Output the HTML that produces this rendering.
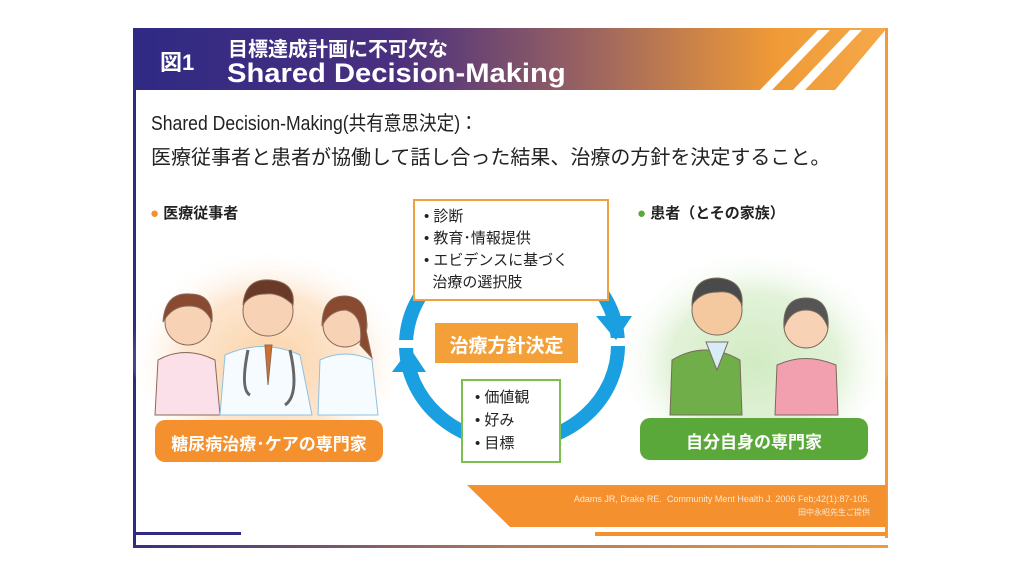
<!DOCTYPE html>
<html><head><meta charset="utf-8"><style>
body{margin:0;width:1024px;height:576px;background:#fff;position:relative;overflow:hidden;font-family:"Liberation Sans","Noto Sans CJK JP",sans-serif;}
.a{position:absolute;white-space:nowrap;}
</style></head><body>
<svg width="1024" height="576" style="position:absolute;left:0;top:0">
<defs>
<linearGradient id="hg" x1="0" x2="1"><stop offset="0" stop-color="#2f2a84"/><stop offset="0.35" stop-color="#4a2f7f"/><stop offset="0.62" stop-color="#a0675e"/><stop offset="0.85" stop-color="#ef9a36"/><stop offset="1" stop-color="#f6a84a"/></linearGradient>
<linearGradient id="bg2" x1="0" x2="1"><stop offset="0" stop-color="#3a2d7e"/><stop offset="0.5" stop-color="#b07a5a"/><stop offset="1" stop-color="#f29a38"/></linearGradient>
<radialGradient id="og" cx="0.5" cy="0.6" r="0.5"><stop offset="0" stop-color="#fbd3a8"/><stop offset="0.6" stop-color="#fde6cf"/><stop offset="1" stop-color="#fff" stop-opacity="0"/></radialGradient>
<radialGradient id="gg" cx="0.5" cy="0.6" r="0.5"><stop offset="0" stop-color="#d2ebc4"/><stop offset="0.6" stop-color="#e2f2d8"/><stop offset="1" stop-color="#fff" stop-opacity="0"/></radialGradient>
</defs>
<polygon points="133,28 887,28 835,90 133,90" fill="url(#hg)"/>
<polygon points="818,30 830,30 772,90 760,90" fill="#fff"/>
<polygon points="850,30 862,30 805,90 793,90" fill="#fff"/>
<rect x="133" y="28" width="3" height="520" fill="#2f2a84"/>
<rect x="885" y="28" width="3" height="510" fill="#f29a38"/>
<rect x="133" y="545" width="755" height="3" fill="url(#bg2)"/>
<rect x="136" y="532" width="105" height="3" fill="#2f2a84"/>
<polygon points="467,485 886,485 886,527 510,527" fill="#f4902e"/>
<rect x="595" y="532" width="291" height="4" fill="#f4902e"/>
<ellipse cx="268" cy="340" rx="140" ry="115" fill="url(#og)"/>
<ellipse cx="754" cy="340" rx="140" ry="115" fill="url(#gg)"/>
<g stroke="#8a6a5a" stroke-width="1">
<path d="M155,415 L158,360 Q185,345 215,360 L220,415Z" fill="#fbe0ea"/>
<circle cx="188" cy="322" r="23" fill="#f8d2b4"/>
<path d="M163,322 Q165,292 190,294 Q214,294 212,322 Q205,305 188,306 Q172,306 163,322Z" fill="#8a4a30"/>
<path d="M318,415 L320,360 Q345,348 372,360 L378,415Z" fill="#f5fbff" stroke="#8fc0e0"/>
<circle cx="345" cy="325" r="22" fill="#f8d2b4"/>
<path d="M322,326 Q322,295 346,296 Q370,298 366,330 L372,358 L360,345 Q364,315 346,310 Q330,310 322,326Z" fill="#8a4a30"/>
<path d="M220,415 L225,355 Q262,338 300,355 L312,415Z" fill="#f5fbff" stroke="#8fc0e0"/>
<circle cx="268" cy="311" r="25" fill="#f8d2b4"/>
<path d="M243,305 Q245,278 270,280 Q296,282 293,305 Q280,292 265,294 Q250,294 243,305Z" fill="#6a3a28"/>
<path d="M265,345 L268,385 L272,345Z" fill="#d07030"/>
<path d="M248,350 Q240,390 250,395 M290,350 Q300,395 285,405" fill="none" stroke="#666" stroke-width="3"/>
</g>
<g stroke="#7a6a5a" stroke-width="1">
<path d="M670,415 L672,360 Q705,340 740,360 L742,415Z" fill="#6fae48"/>
<circle cx="717" cy="310" r="25" fill="#f5c9a0"/>
<path d="M692,305 Q692,278 718,278 Q744,280 742,305 Q735,290 718,292 Q700,292 692,305Z" fill="#4a4a4a"/>
<path d="M706,342 L717,370 L728,342Z" fill="#d8ecf8"/>
<path d="M775,415 L777,365 Q805,352 836,365 L838,415Z" fill="#f2a0b0"/>
<circle cx="806" cy="326" r="22" fill="#f8d2b4"/>
<path d="M784,328 Q782,298 806,298 Q830,298 828,328 Q822,310 806,310 Q790,310 784,328Z" fill="#555"/>
</g>
<rect x="155" y="420" width="228" height="42" rx="10" fill="#f4902e"/>
<rect x="640" y="418" width="228" height="42" rx="10" fill="#5aa83a"/>
<ellipse cx="512" cy="345" rx="106" ry="98" fill="none" stroke="#1a9fe0" stroke-width="14"/>
<rect x="596" y="338" width="30" height="8" fill="#fff"/>
<rect x="396" y="340" width="30" height="8" fill="#fff"/>
<polygon points="596,316 632,316 616,340" fill="#1a9fe0"/>
<polygon points="392,372 426,372 410,348" fill="#1a9fe0"/>
<rect x="414" y="200" width="194" height="100" fill="#fff" stroke="#f0a040" stroke-width="2"/>
<rect x="462" y="380" width="98" height="82" fill="#fff" stroke="#7cbf50" stroke-width="2"/>
<rect x="435" y="323" width="143" height="40" fill="#f4a03a"/>
</svg>
<div class="a" style="left:160px;top:45px;font-size:22px;font-weight:bold;color:#fff">図1</div>
<div class="a" style="left:228px;top:33px;font-size:20px;font-weight:bold;color:#fff">目標達成計画に不可欠な</div>
<div class="a" style="left:227px;top:58px;font-size:27px;font-weight:bold;color:#fff;transform:scaleX(1.08);transform-origin:left">Shared Decision-Making</div>
<div class="a" style="left:151px;top:107px;font-size:20px;color:#222;transform:scaleX(0.88);transform-origin:left">Shared Decision-Making(共有意思決定)：</div>
<div class="a" style="left:151px;top:141px;font-size:20px;color:#222">医療従事者と患者が協働して話し合った結果、治療の方針を決定すること。</div>
<div class="a" style="left:150px;top:202px;font-size:15px;font-weight:bold;color:#222"><span style="color:#f4902e">●</span> 医療従事者</div>
<div class="a" style="left:637px;top:202px;font-size:15px;font-weight:bold;color:#222"><span style="color:#5aa83a">●</span> 患者（とその家族）</div>
<div class="a" style="left:424px;top:206px;font-size:15px;line-height:22px;color:#222">• 診断<br>• 教育･情報提供<br>• エビデンスに基づく<br>&nbsp;&nbsp;治療の選択肢</div>
<div class="a" style="left:435px;top:331px;width:143px;text-align:center;font-size:19px;font-weight:bold;color:#fff">治療方針決定</div>
<div class="a" style="left:475px;top:386px;font-size:15px;line-height:23px;color:#222">• 価値観<br>• 好み<br>• 目標</div>
<div class="a" style="left:155px;top:430px;width:228px;text-align:center;font-size:17px;font-weight:bold;color:#fff">糖尿病治療･ケアの専門家</div>
<div class="a" style="left:640px;top:428px;width:228px;text-align:center;font-size:17px;font-weight:bold;color:#fff">自分自身の専門家</div>
<div class="a" style="left:520px;top:494px;width:350px;text-align:right;font-size:9px;color:#ffe8d0">Adams JR, Drake RE.&nbsp; Community Ment Health J. 2006 Feb;42(1):87-105.</div>
<div class="a" style="left:520px;top:507px;width:350px;text-align:right;font-size:8px;color:#ffe8d0">田中永昭先生ご提供</div>
</body></html>
